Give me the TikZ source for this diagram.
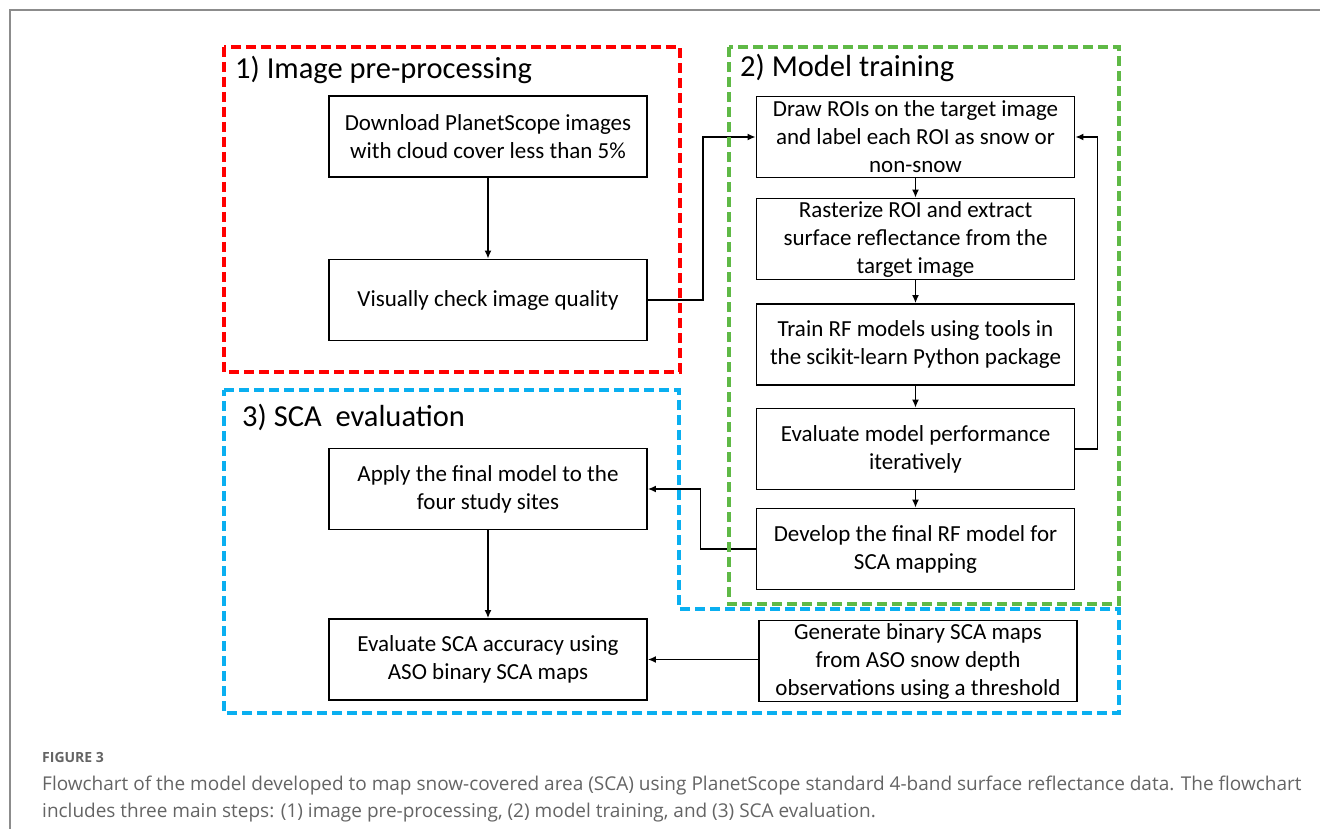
\documentclass[tikz,border=0pt]{standalone}
\usepackage{fontspec}
\setmainfont{Carlito}
\newfontfamily\capfont{Open Sans}
\usetikzlibrary{arrows.meta}
\definecolor{framered}{RGB}{255,0,0}
\definecolor{framegreen}{RGB}{95,185,70}
\definecolor{frameblue}{RGB}{10,175,240}
\definecolor{capgrey}{RGB}{100,100,100}
\definecolor{rulegrey}{RGB}{140,140,140}

\begin{document}
\begin{tikzpicture}[x=1pt, y=-1pt,
            stepbox/.style = {draw, fill=white, line width=1.8pt, minimum width=318pt, minimum height=81pt,
                              inner sep=0pt, align=center, font=\fontsize{23}{28}\selectfont},
            title/.style = {anchor=base west, inner sep=0pt, font=\fontsize{30.5}{36}\selectfont},
            frame/.style = {line width=3.5pt, dash pattern=on 10pt off 5pt},
            caption/.style = {anchor=base west, inner sep=0pt, text=capgrey},
            every edge/.style = {draw, line width=1.5pt, -{Latex[length=8pt,width=7pt]}}
        ]
        \useasboundingbox (0,0) rectangle (1320,829);
        \draw[rulegrey, line width=2pt] (10,829) -- (10,10) -- (1320,10);

        % step 1
        \node[stepbox] (dl) at (488,136.5) {Download PlanetScope images\\with cloud cover less than 5\%};
        \node[stepbox] (vis) at (488,300) {Visually check image quality};
        % step 2
        \node[stepbox] (roi) at (915.5,137) {Draw ROIs on the target image\\and label each ROI as snow or\\non-snow};
        \node[stepbox] (ras) at (915.5,239) {Rasterize ROI and extract\\surface reflectance from the\\target image};
        \node[stepbox] (train) at (915.5,344.5) {Train RF models using tools in\\the scikit-learn Python package};
        \node[stepbox] (evalm) at (915.5,449) {Evaluate model performance\\iteratively};
        \node[stepbox] (dev) at (915.5,549) {Develop the final RF model for\\SCA mapping};
        % step 3
        \node[stepbox] (apply) at (488,489) {Apply the final model to the\\four study sites};
        \node[stepbox] (evsca) at (488,659.5) {Evaluate SCA accuracy using\\ASO binary SCA maps};
        \node[stepbox] (gen) at (918,661) {Generate binary SCA maps\\from ASO snow depth\\observations using a threshold};

        \path (dl) edge (vis);
        \path (vis.east) edge[to path={-- ++(55,0) |- (\tikztotarget)}] (roi.west);
        \path (roi) edge (ras);
        \path (ras) edge (train);
        \path (train) edge (evalm);
        \path (evalm) edge (dev);
        \path (evalm.east) edge[to path={-- ++(22,0) |- (\tikztotarget)}] (roi.east);
        \path (dev.west) edge[to path={-- ++(-55,0) |- (\tikztotarget)}] (apply.east);
        \path (apply) edge (evsca);
        \path (gen.west |- evsca) edge (evsca);

        \draw[frame, framered] (224,47) rectangle (680,372);
        \draw[frame, framegreen] (729,47) rectangle (1119,604);
        \draw[frame, frameblue] (224,390) -- (679,390) -- (679,609) -- (1119,609) -- (1119,713) -- (224,713) -- cycle;

        \node[title] (t1) at (235,79) {1) Image pre-processing};
        \node[title] (t2) at (740,77) {2) Model training};
        \node[title] (t3) at (242,426) {3) SCA\ \ evaluation};

        \node[caption, font=\capfont\bfseries\fontsize{14}{16}\selectfont] (fig) at (42,762) {FIGURE 3};
        \node[caption, font=\capfont\fontsize{19}{22}\selectfont] (cap1) at (42,790) {Flowchart of the model developed to map snow-covered area (SCA) using PlanetScope standard 4-band surface reflectance data. The flowchart};
        \node[caption, font=\capfont\fontsize{19}{22}\selectfont] (cap2) at (42,817) {includes three main steps: (1) image pre-processing, (2) model training, and (3) SCA evaluation.};
    \end{tikzpicture}
\end{document}
